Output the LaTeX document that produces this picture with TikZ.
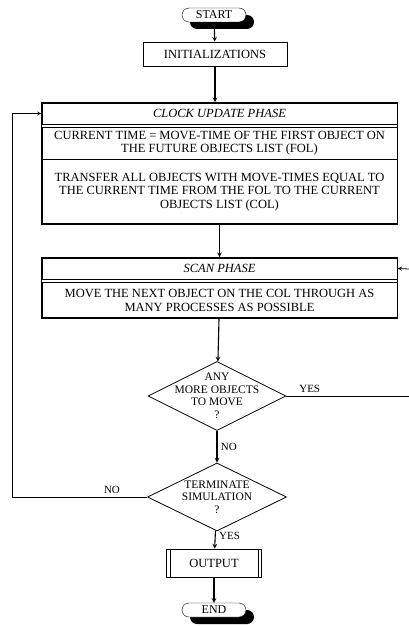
\documentclass[tikz,border=0pt]{standalone}
\usepackage{fontspec}
\setmainfont{Liberation Serif}
\usetikzlibrary{shapes.geometric, arrows, positioning, fit, calc, shadows}

\begin{document}
\begin{tikzpicture}[x=1pt, y=-1pt,
        terminal/.style={draw, rectangle, rounded corners=7pt, minimum width=64pt, minimum height=14pt, inner sep=1pt, fill=white, font=\fontsize{12}{13}\selectfont,
            drop shadow={shadow xshift=8pt, shadow yshift=-7pt, fill=black, opacity=1}},
        procbox/.style={draw, rectangle, line width=0.8pt, font=\fontsize{12.5}{13.5}\selectfont},
        phase/.style={draw, rectangle, line width=0.8pt, minimum width=355pt, minimum height=21pt, font=\fontsize{12.5}{13.5}\selectfont\itshape},
        stepbox/.style={draw, rectangle, line width=0.8pt, minimum width=355pt, align=center, font=\fontsize{12.5}{13.5}\selectfont},
        decision/.style={draw, diamond, line width=0.8pt, aspect=2, inner xsep=-30pt, inner ysep=-15pt, align=center, font=\fontsize{11.5}{12.5}\selectfont},
        flow/.style={line width=1.1pt, -stealth},
        lbl/.style={font=\fontsize{11}{12}\selectfont}
    ]
        \useasboundingbox (0,0) rectangle (409,626);

        % Start and initializations
        \node[terminal] (start) at (214,15) {START};
        \node[procbox, minimum width=144pt, minimum height=24pt] (init) at (215,54) {INITIALIZATIONS};

        % Clock update phase
        \node[phase] (clockhd) at (219.5,113.5) {CLOCK UPDATE PHASE};
        \node[stepbox, minimum height=31pt, below=3pt of clockhd] (fol) {CURRENT TIME = MOVE-TIME OF THE FIRST OBJECT ON\\THE FUTURE OBJECTS LIST (FOL)};
        \node[stepbox, minimum height=64pt, below=0pt of fol] (transfer) {TRANSFER ALL OBJECTS WITH MOVE-TIMES EQUAL TO\\THE CURRENT TIME FROM THE FOL TO THE CURRENT\\OBJECTS LIST (COL)};
        \node[draw, line width=0.8pt, inner sep=0pt, fit=(clockhd)(transfer)] (clock) {};

        % Scan phase
        \node[phase] (scanhd) at (219.5,268.5) {SCAN PHASE};
        \node[stepbox, minimum height=35pt, below=3pt of scanhd] (move) {MOVE THE NEXT OBJECT ON THE COL THROUGH AS\\MANY PROCESSES AS POSSIBLE};
        \node[draw, line width=0.8pt, inner sep=0pt, fit=(scanhd)(move)] (scan) {};

        % Decisions
        \node[decision, minimum width=138pt, minimum height=69pt] (anymore) at (217,396) {ANY\\MORE OBJECTS\\TO MOVE\\?};
        \node[decision, minimum width=139pt, minimum height=68pt] (term) at (217,497) {TERMINATE\\SIMULATION\\?};

        % Output and end
        \node[procbox, minimum width=95pt, minimum height=28pt] (output) at (214,563) {OUTPUT};
        \draw[line width=0.8pt] ($(output.north west)+(4,0)$) -- ($(output.south west)+(4,0)$);
        \draw[line width=0.8pt] ($(output.north east)+(-4,0)$) -- ($(output.south east)+(-4,0)$);
        \node[terminal] (end) at (214,610) {END};

        % Connectors
        \coordinate (loop) at (12,497);
        \coordinate (yesend) at (409,396);
        \coordinate (scanin) at (409,269);

        \draw[flow] (start) -- (init);
        \draw[flow] (init) -- (clock.north -| init);
        \draw[flow] (transfer) -- (scan.north -| transfer);
        \draw[flow] (move) -- (anymore);
        \draw[flow] (anymore) -- node[lbl, right] {NO} (term);
        \draw[flow] (term) -- node[lbl, right, pos=0.3] {YES} (output);
        \draw[flow] (output) -- (end);
        \draw[line width=0.8pt] (anymore.east) -- node[lbl, above, pos=0.19] {YES} (yesend);
        \draw[line width=0.8pt, -stealth] (scanin) -- (scanhd.east -| scan.east);
        \draw[line width=0.8pt, -stealth] (term.west) -- node[lbl, above, pos=0.26] {NO} (term.west -| loop) |- (clockhd.west -| clock.west);

    \end{tikzpicture}
\end{document}
